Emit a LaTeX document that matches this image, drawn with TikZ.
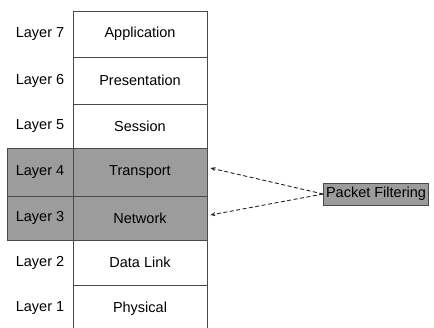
\documentclass[tikz,border=0pt]{standalone}
\usepackage{fontspec}
\setmainfont{Liberation Sans}
\usetikzlibrary{arrows.meta}
\definecolor{shadegray}{HTML}{9C9C9C}
\definecolor{rulegray}{HTML}{4A4A4A}
\begin{document}
\begin{tikzpicture}
[x=1pt,y=-1pt,
  layercell/.style={draw=rulegray,line width=0.8pt,minimum width=134pt,inner sep=0pt,
    font=\fontsize{14.5}{16}\selectfont},%
  layerlabel/.style={minimum width=66pt,inner sep=0pt,font=\fontsize{14.5}{16}\selectfont},%
  filtered/.style={fill=shadegray},%
  filterbox/.style={draw=rulegray,fill=shadegray,line width=0.8pt,inner sep=2.5pt,
    minimum height=22pt,font=\fontsize{14.5}{16}\selectfont},%
  filterarrow/.style={-{Stealth[length=5pt,width=4pt]},dashed,dash pattern=on 4pt off 2.5pt,
    line width=0.9pt,draw=black!85}]
\useasboundingbox (0,0) rectangle (434,327);
\clip (0,0) rectangle (434,327);
%% shaded layers on the left
\fill[shadegray] (7,148) rectangle (73,240);
%% layer cells
\foreach \num/\name/\ytop/\ybot/\shade in {
  7/Application/11/57/, 6/Presentation/57/104/, 5/Session/104/148/,
  4/Transport/148/196/filtered, 3/Network/196/240/filtered,
  2/Data Link/240/285/, 1/Physical/285/332/}
{
  \node (cell\num) at (140,{(\ytop+\ybot)/2}) [layercell,\shade,minimum height={\ybot-\ytop}] {\name};
  \node (label\num) at (40,{(\ytop+\ybot)/2}) [layerlabel] {Layer \num};
}
\draw[rulegray,line width=0.8pt] (7,148) rectangle (73,240) (7,196) -- (73,196);
%% packet filtering
\node (filter) at (376,194) [filterbox] {Packet Filtering};
\coordinate (tgt4) at ([xshift=3pt,yshift=4pt]cell4.east);
\coordinate (tgt3) at ([xshift=3pt,yshift=3pt]cell3.east);
\path
\foreach \target in {tgt4, tgt3} {
  (filter.west) edge[filterarrow] (\target)
};
\end{tikzpicture}
\end{document}
